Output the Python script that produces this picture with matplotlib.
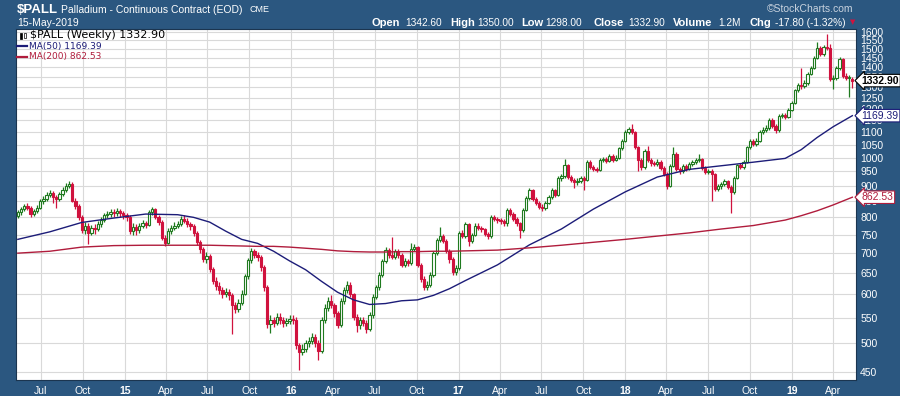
import datetime as dt
import matplotlib
matplotlib.use("Agg")
import matplotlib.pyplot as plt
import matplotlib.dates as mdates
from matplotlib.patches import Rectangle
from matplotlib.ticker import NullLocator

# weekly OHLC of $PALL, first bar = week of 12-May-2014
closes = [
    815, 825, 835, 830, 810, 818, 830, 850, 856, 870,
    876, 862, 858, 872, 886, 900, 906, 852, 835, 800,
    762, 775, 756, 770, 766, 780, 792, 806, 810, 816,
    812, 818, 814, 806, 800, 760, 772, 762, 776, 782,
    779, 815, 826, 800, 786, 742, 728, 760, 770, 776,
    780, 796, 790, 780, 774, 755, 730, 710, 686, 692,
    660, 632, 620, 610, 600, 606, 598, 576, 568, 582,
    602, 642, 682, 706, 696, 690, 664, 616, 538, 546,
    540, 552, 546, 540, 543, 548, 545, 496, 484, 490,
    500, 505, 512, 500, 486, 546, 570, 586, 576, 560,
    536, 586, 610, 622, 600, 552, 535, 546, 540, 528,
    556, 595, 616, 646, 680, 708, 696, 690, 705, 696,
    670, 680, 675, 712, 716, 670, 636, 618, 622, 646,
    700, 736, 746, 732, 706, 684, 652, 662, 755, 746,
    780, 732, 750, 775, 770, 765, 752, 745, 800, 795,
    792, 788, 782, 822, 810, 795, 782, 762, 823, 860,
    885, 858, 845, 832, 828, 845, 862, 885, 870, 925,
    932, 972, 930, 920, 912, 918, 925, 920, 985, 965,
    960, 955, 990, 995, 988, 1005, 992, 1000, 1035, 1065,
    1100, 1112, 1100, 1040, 990, 965, 1025, 990, 980, 978,
    985, 962, 940, 900, 970, 1015, 958, 950, 968, 960,
    975, 985, 990, 995, 962, 948, 952, 940, 890, 898,
    905, 915, 897, 880, 928, 972, 965, 985, 1040, 1065,
    1052, 1065, 1100, 1110, 1118, 1150, 1125, 1108, 1170, 1172,
    1165, 1195, 1228, 1285, 1310, 1305, 1322, 1368, 1398, 1452,
    1505, 1470, 1512, 1505, 1340, 1345, 1395, 1445, 1355, 1345,
    1350, 1332.9,
]
opens = [
    805, 815, 825, 835, 830, 810, 818, 830, 850, 856,
    870, 876, 862, 858, 872, 886, 900, 906, 852, 835,
    800, 762, 775, 756, 770, 766, 780, 792, 806, 810,
    816, 812, 818, 814, 806, 800, 760, 772, 762, 776,
    782, 779, 815, 826, 800, 786, 742, 728, 760, 770,
    776, 780, 796, 790, 780, 774, 755, 730, 710, 686,
    692, 660, 632, 620, 610, 600, 606, 598, 576, 568,
    582, 602, 642, 682, 706, 696, 690, 664, 616, 538,
    546, 540, 552, 546, 540, 543, 548, 545, 496, 484,
    490, 500, 505, 512, 500, 486, 546, 570, 586, 576,
    560, 536, 586, 610, 622, 600, 552, 535, 546, 540,
    528, 556, 595, 616, 646, 680, 708, 696, 690, 705,
    696, 670, 680, 675, 712, 716, 670, 636, 618, 622,
    646, 700, 736, 746, 732, 706, 684, 652, 662, 755,
    746, 780, 732, 750, 775, 770, 765, 752, 745, 800,
    795, 792, 788, 782, 822, 810, 795, 782, 762, 823,
    860, 885, 858, 845, 832, 828, 845, 862, 885, 870,
    925, 932, 972, 930, 920, 912, 918, 925, 920, 985,
    965, 960, 955, 990, 995, 988, 1005, 992, 1000, 1035,
    1065, 1100, 1112, 1100, 1040, 990, 965, 1025, 990, 980,
    978, 985, 962, 940, 900, 970, 1015, 958, 950, 968,
    960, 975, 985, 990, 995, 962, 948, 952, 940, 890,
    898, 905, 915, 897, 880, 928, 972, 965, 985, 1040,
    1065, 1052, 1065, 1100, 1110, 1118, 1150, 1125, 1108, 1170,
    1172, 1165, 1195, 1228, 1285, 1310, 1305, 1322, 1368, 1398,
    1452, 1505, 1470, 1512, 1505, 1340, 1345, 1395, 1445, 1355,
    1345, 1342.6,
]
highs = [
    822, 832, 842, 845, 836, 826, 838, 858, 866, 880,
    886, 884, 870, 880, 895, 910, 916, 912, 860, 840,
    806, 785, 782, 778, 780, 788, 800, 814, 820, 826,
    824, 828, 826, 820, 812, 806, 782, 780, 784, 792,
    790, 822, 832, 830, 806, 792, 750, 768, 778, 786,
    790, 804, 806, 798, 786, 780, 760, 736, 716, 702,
    698, 665, 640, 628, 618, 615, 612, 604, 584, 590,
    610, 648, 688, 714, 712, 704, 696, 670, 622, 555,
    552, 560, 560, 552, 550, 556, 555, 552, 500, 498,
    506, 512, 520, 518, 506, 552, 578, 594, 598, 582,
    565, 592, 618, 630, 628, 604, 558, 552, 552, 546,
    562, 600, 622, 652, 686, 716, 714, 744, 712, 712,
    700, 688, 686, 727, 724, 720, 674, 642, 630, 652,
    706, 742, 772, 752, 738, 712, 690, 670, 760, 762,
    786, 784, 756, 782, 782, 776, 770, 758, 806, 806,
    802, 798, 794, 828, 828, 816, 800, 786, 828, 866,
    892, 890, 864, 850, 840, 852, 870, 892, 890, 932,
    942, 995, 978, 936, 926, 926, 934, 932, 992, 990,
    972, 966, 998, 1004, 1002, 1014, 1012, 1010, 1042, 1072,
    1108, 1122, 1132, 1106, 1046, 998, 1032, 1045, 998, 988,
    994, 990, 968, 946, 976, 1040, 1020, 966, 976, 976,
    982, 992, 1000, 1015, 1000, 968, 960, 958, 945, 906,
    914, 922, 920, 904, 934, 978, 980, 992, 1046, 1072,
    1072, 1074, 1108, 1120, 1128, 1158, 1158, 1132, 1178, 1182,
    1180, 1204, 1236, 1294, 1320, 1395, 1334, 1378, 1410, 1462,
    1540, 1515, 1525, 1585, 1528, 1360, 1405, 1455, 1452, 1370,
    1362, 1350,
]
lows = [
    798, 808, 818, 822, 800, 804, 812, 824, 842, 850,
    862, 845, 830, 852, 866, 880, 892, 846, 826, 792,
    755, 752, 725, 748, 752, 760, 772, 786, 798, 802,
    800, 804, 802, 796, 790, 752, 750, 748, 756, 770,
    768, 774, 808, 794, 778, 735, 718, 724, 752, 764,
    768, 774, 782, 772, 764, 746, 722, 700, 678, 676,
    652, 625, 610, 600, 592, 594, 588, 517, 560, 562,
    576, 598, 636, 676, 688, 680, 656, 608, 530, 520,
    532, 535, 538, 532, 534, 538, 538, 490, 452, 478,
    484, 494, 498, 494, 470, 482, 540, 564, 570, 552,
    530, 532, 580, 604, 594, 545, 521, 528, 533, 520,
    524, 550, 590, 610, 640, 674, 688, 684, 684, 688,
    664, 664, 666, 670, 705, 664, 628, 610, 610, 616,
    640, 694, 730, 726, 700, 676, 645, 646, 658, 740,
    740, 720, 726, 745, 764, 758, 745, 738, 740, 788,
    784, 780, 774, 776, 804, 788, 775, 740, 758, 818,
    854, 850, 838, 826, 818, 822, 840, 856, 862, 866,
    918, 926, 924, 912, 893, 904, 910, 887, 915, 958,
    950, 946, 950, 982, 980, 982, 984, 986, 994, 1028,
    1058, 1092, 1092, 1032, 950, 955, 960, 982, 970, 968,
    970, 954, 932, 890, 895, 964, 950, 942, 944, 952,
    954, 968, 978, 984, 955, 940, 940, 850, 882, 882,
    890, 898, 890, 812, 874, 922, 958, 958, 980, 1034,
    1044, 1046, 1058, 1092, 1102, 1110, 1116, 1098, 1102, 1160,
    1156, 1158, 1188, 1222, 1276, 1292, 1295, 1312, 1360, 1390,
    1445, 1460, 1462, 1495, 1330, 1290, 1335, 1385, 1345, 1336,
    1255, 1298,
]

# moving averages read at some bar indices
ma_bars = [0, 10, 20, 30, 40, 50, 55, 60, 65, 70, 75, 80, 85, 90, 95, 100,
           105, 110, 115, 120, 125, 130, 135, 140, 150, 160, 170, 180, 190,
           200, 210, 220, 230, 240, 245, 250, 255, 261]
ma50 = [737, 758, 785, 798, 810, 808, 800, 786, 760, 737, 726, 705, 680, 658,
        630, 605, 588, 578, 580, 586, 588, 598, 613, 632, 670, 722, 766, 825,
        880, 930, 957, 970, 983, 997, 1030, 1078, 1122, 1169.39]
ma200 = [700, 705, 716, 720, 721, 721, 721, 721, 720, 719, 718, 718, 716, 713,
         710, 706, 704, 703, 703, 704, 704, 705, 705, 706, 708, 714, 721, 729,
         737, 746, 755, 766, 776, 792, 805, 820, 838, 862.53]

price_ticks = list(range(450, 1601, 50))

FRAME = "#2b5780"
GREEN = "#1f7a1f"
RED = "#d0123e"
NAVY = "#1c1c78"
CRIMSON = "#b01c3c"
GRID = "#d9d9d9"
SANS = ["Liberation Sans", "DejaVu Sans"]

plt.rcParams["font.family"] = SANS

fig = plt.figure(figsize=(9, 3.96), dpi=100, facecolor=FRAME)
ax = fig.add_axes([16 / 900, 16 / 396, 840 / 900, 351 / 396])
ax.set_facecolor("white")

start = dt.date(2014, 5, 12)
dates = [start + dt.timedelta(weeks=i) for i in range(len(closes))]
xs = mdates.date2num(dates)

# candles: hollow green when close >= open, filled red otherwise
w = 5.0
for col, up in ((GREEN, True), (RED, False)):
    wx, w_lo, w_hi = [], [], []
    for xi, o, h, l, c in zip(xs, opens, highs, lows, closes):
        if (c >= o) != up:
            continue
        top, bot = max(o, c), min(o, c)
        wx += [xi, xi]
        w_lo += [top, l]
        w_hi += [h, bot]
        ax.add_patch(Rectangle((xi - w / 2, bot), w, max(top - bot, 1.0),
                               facecolor="white" if up else col,
                               edgecolor=col, lw=0.8, zorder=4))
    ax.vlines(wx, w_lo, w_hi, color=col, lw=0.9, zorder=3)

ma_x = [xs[i] for i in ma_bars]
ax.plot(ma_x, ma50, color=NAVY, lw=1.0, zorder=5)
ax.plot(ma_x, ma200, color=CRIMSON, lw=1.0, zorder=5)

# axes
ax.set_yscale("log")
ax.set_ylim(436, 1616)
ax.set_xlim(mdates.date2num(dt.date(2014, 5, 8)), mdates.date2num(dt.date(2019, 5, 21)))
ax.yaxis.tick_right()
ax.set_yticks(price_ticks)
ax.set_yticklabels([str(t) for t in price_ticks])
ax.yaxis.set_minor_locator(NullLocator())

month_ticks, month_labels = [], []
for y in range(2014, 2020):
    for m in (1, 4, 7, 10):
        d = dt.date(y, m, 1)
        if dt.date(2014, 6, 1) < d < dt.date(2019, 5, 1):
            month_ticks.append(mdates.date2num(d))
            month_labels.append(str(y)[2:] if m == 1 else d.strftime("%b"))
ax.set_xticks(month_ticks)
ax.set_xticklabels(month_labels)
ax.xaxis.set_minor_locator(NullLocator())
for lbl in ax.get_xticklabels():
    if lbl.get_text().isdigit():
        lbl.set_fontweight("bold")

ax.tick_params(axis="both", length=0, colors="white", labelsize=7.5)
ax.tick_params(axis="y", pad=3)
ax.tick_params(axis="x", pad=4)
ax.grid(True, color=GRID, lw=0.8, zorder=0)
ax.set_axisbelow(True)
for s in ax.spines.values():
    s.set_color("#1b3550")
    s.set_linewidth(0.8)

# last-value flags on the price axis
flags = [(1332.9, "1332.90", "black", "bold"),
         (1169.39, "1169.39", NAVY, "normal"),
         (862.53, "862.53", CRIMSON, "normal")]
for val, txt, col, weight in flags:
    ax.annotate(txt, xy=(1.0, val), xycoords=ax.get_yaxis_transform(),
                xytext=(4, 0), textcoords="offset points", ha="left", va="center",
                fontsize=7.5, color=col, fontweight=weight, zorder=10,
                bbox=dict(boxstyle="larrow,pad=0.12", fc="white", ec=col, lw=0.8),
                annotation_clip=False)


def px(x, y):
    return x / 900, 1 - y / 396


# header
fig.text(*px(17, 10), "$PALL", color="white", fontsize=9.5, fontweight="bold", va="center")
fig.text(*px(61, 10), "Palladium - Continuous Contract (EOD)", color="white", fontsize=7.5, va="center")
fig.text(*px(250, 10), "CME", color="white", fontsize=6.5, va="center")
fig.text(*px(17, 23), "15-May-2019", color="white", fontsize=7.5, va="center")
fig.text(*px(853, 9), "\u00a9StockCharts.com", color="#c9d3df", fontsize=7.5, va="center", ha="right")

info_labels = ["Open", "High", "Low", "Close", "Volume", "Chg"]
info_values = ["1342.60", "1350.00", "1298.00", "1332.90", "1.2M", "-17.80 (-1.32%)"]
label_x = [372, 450, 521, 593, 673, 749]
value_x = [405, 477, 545, 628, 718, 775]
for lab, val, lx, vx in zip(info_labels, info_values, label_x, value_x):
    fig.text(*px(lx, 23), lab, color="white", fontsize=8, fontweight="bold", va="center")
    fig.text(*px(vx, 23), val, color="white", fontsize=7.3, va="center")
fig.text(*px(850, 22), "\u25bc", color=RED, fontsize=5, va="center", family="DejaVu Sans")

# legend inside the plot
fig.add_artist(Rectangle(px(20, 39), 2 / 900, 6 / 396, transform=fig.transFigure,
                         facecolor="black", edgecolor="black", lw=0.5))
fig.add_artist(Rectangle(px(24, 38), 2 / 900, 5 / 396, transform=fig.transFigure,
                         facecolor="white", edgecolor="black", lw=0.5))
fig.text(*px(30, 35), "$PALL (Weekly) 1332.90", color="black", fontsize=8,
         va="center", family="DejaVu Sans")
for yy, txt, col in ((46, "MA(50) 1169.39", NAVY), (57, "MA(200) 862.53", CRIMSON)):
    fig.add_artist(plt.Line2D([17 / 900, 27 / 900], [1 - yy / 396] * 2,
                              transform=fig.transFigure, color=col, lw=1.6))
    fig.text(*px(29, yy), txt, color=col, fontsize=6.5, va="center", family="DejaVu Sans")

fig.savefig("out.png", dpi=100, facecolor=FRAME)
